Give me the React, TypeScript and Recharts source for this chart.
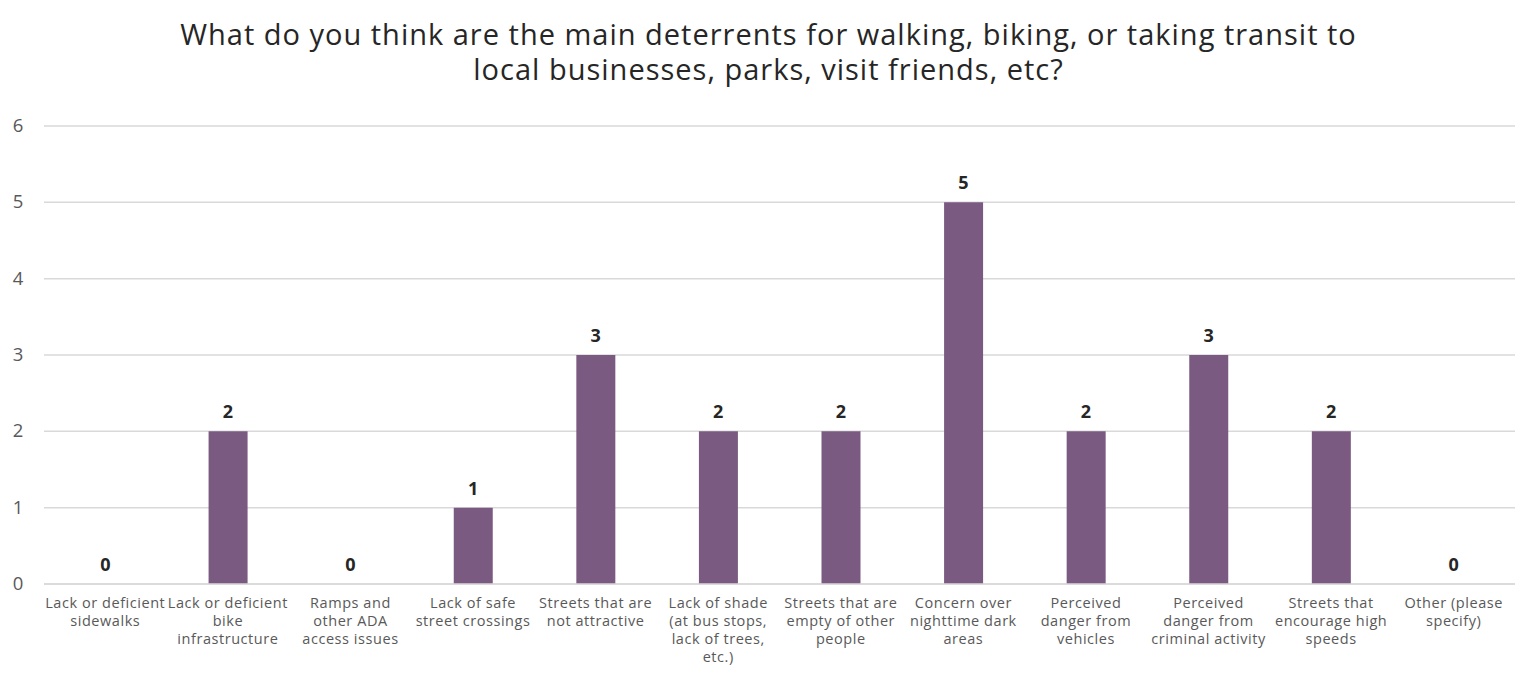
import React from "react";
import { ComposedChart, Bar, Line, XAxis, YAxis, CartesianGrid, LabelList } from "recharts";

const titleLines = [
  "What do you think are the main deterrents for walking, biking, or taking transit to",
  "local businesses, parks, visit friends, etc?",
];

const categories = [
  "Lack or deficient\nsidewalks",
  "Lack or deficient\nbike\ninfrastructure",
  "Ramps and\nother ADA\naccess issues",
  "Lack of safe\nstreet crossings",
  "Streets that are\nnot attractive",
  "Lack of shade\n(at bus stops,\nlack of trees,\netc.)",
  "Streets that are\nempty of other\npeople",
  "Concern over\nnighttime dark\nareas",
  "Perceived\ndanger from\nvehicles",
  "Perceived\ndanger from\ncriminal activity",
  "Streets that\nencourage high\nspeeds",
  "Other (please\nspecify)",
];

const counts = [0, 2, 0, 1, 3, 2, 2, 5, 2, 3, 2, 0];

const yTicks = [0, 1, 2, 3, 4, 5, 6];

const data = categories.map((c, i) => ({ name: c, value: counts[i] }));

const FONT = "'Open Sans', 'Noto Sans', sans-serif";

const XTick = (props: any) => {
  const { x, y, payload } = props;
  const lines = String(payload.value).split("\n");
  return (
    <g transform={`translate(${x},${y})`}>
      {lines.map((l, i) => (
        <text
          key={i}
          x={0}
          y={16 + i * 18}
          textAnchor="middle"
          fill="#595959"
          fontSize={14.5}
          letterSpacing={0.55}
          fontFamily={FONT}
        >
          {l}
        </text>
      ))}
    </g>
  );
};

const YTick = (props: any) => {
  const { y, payload } = props;
  return (
    <text x={18} y={y + 6} textAnchor="middle" fill="#595959" fontSize={18.5} fontFamily={FONT}>
      {payload.value}
    </text>
  );
};

export default function App() {
  return (
    <div style={{ position: "absolute", left: 0, top: 0, width: 1537, height: 677, background: "#fff" }}>
      <div
        style={{
          position: "absolute",
          left: 0,
          top: 16,
          width: 1537,
          textAlign: "center",
          fontFamily: FONT,
          fontSize: 29,
          letterSpacing: "1px",
          lineHeight: "35px",
          color: "#262626",
        }}
      >
        {titleLines[0]}
        <br />
        {titleLines[1]}
      </div>
      <div style={{ position: "absolute", left: 0, top: 0 }}>
        <ComposedChart
          width={1537}
          height={677}
          data={data}
          margin={{ top: 126, right: 22, bottom: 0, left: 0 }}
        >
          <CartesianGrid vertical={false} stroke="#d9d9d9" strokeWidth={1.5} />
          <XAxis
            dataKey="name"
            interval={0}
            tickLine={false}
            axisLine={{ stroke: "#d9d9d9", strokeWidth: 1.5 }}
            tick={<XTick />}
            height={93}
          />
          <YAxis
            domain={[0, 6]}
            ticks={yTicks}
            width={44}
            tickLine={false}
            axisLine={false}
            tick={<YTick />}
          />
          <Bar dataKey="value" fill="#7B5A82" barSize={39} isAnimationActive={false} />
          <Line
            dataKey="value"
            stroke="none"
            dot={false}
            activeDot={false}
            isAnimationActive={false}
          >
            <LabelList
              dataKey="value"
              position="top"
              offset={13}
              fill="#262626"
              fontSize={18}
              fontWeight={700}
              fontFamily={FONT}
            />
          </Line>
        </ComposedChart>
      </div>
    </div>
  );
}
